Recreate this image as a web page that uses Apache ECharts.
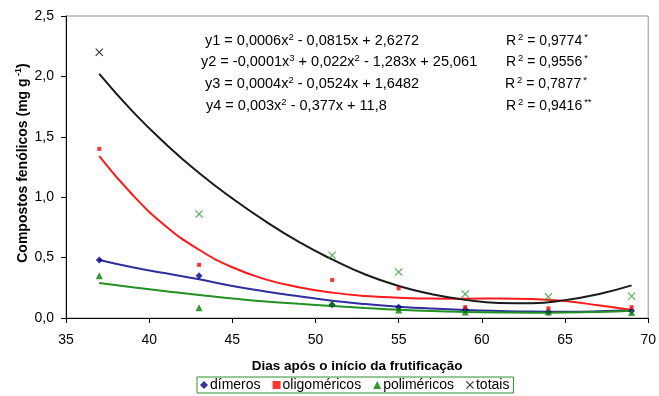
<!DOCTYPE html>
<html>
<head>
<meta charset="utf-8">
<script src="https://cdn.jsdelivr.net/npm/echarts@6/dist/echarts.min.js"></script>
<style>
html,body{margin:0;padding:0;background:#fff;}
#c{width:659px;height:396px;}
</style>
</head>
<body>
<div id="c"></div>
<script>
// Observed data (days after fruiting onset)
const pointDays = [37, 43, 51, 55, 59, 64, 69];
const dimeros = [0.48, 0.35, 0.11, 0.09, 0.07, 0.05, 0.06];
const oligomericos = [1.40, 0.44, 0.315, 0.245, 0.09, 0.08, 0.09];
const polimericos = [0.35, 0.085, 0.12, 0.066, 0.05, 0.05, 0.045];
const totais = [2.20, 0.86, 0.52, 0.38, 0.198, 0.176, 0.18];

// Trend curves
const curveDays = [37, 39, 41, 43, 45, 47, 49, 51, 53, 55, 57, 59, 61, 63, 65, 67, 69];
const fitDimeros = [0.48, 0.42, 0.37, 0.32, 0.265, 0.22, 0.18, 0.143, 0.115, 0.094, 0.078, 0.066, 0.058, 0.053, 0.052, 0.056, 0.066];
const fitOligo = [1.34, 1.02, 0.76, 0.565, 0.42, 0.32, 0.255, 0.21, 0.182, 0.168, 0.161, 0.16, 0.162, 0.158, 0.14, 0.105, 0.066];
const fitPoli = [0.29, 0.255, 0.222, 0.19, 0.162, 0.137, 0.117, 0.1, 0.083, 0.068, 0.057, 0.05, 0.046, 0.044, 0.045, 0.05, 0.06];
const fitTotais = [2.02, 1.71, 1.44, 1.20, 0.99, 0.80, 0.63, 0.485, 0.36, 0.265, 0.197, 0.15, 0.125, 0.123, 0.148, 0.197, 0.27];

const seriesNames = ['dímeros', 'oligoméricos', 'poliméricos', 'totais'];
const equations = [
  ['y1 = 0,0006x', '2', ' - 0,0815x + 2,6272', '', ''],
  ['y2 = -0,0001x', '3', ' + 0,022x', '2', ' - 1,283x + 25,061'],
  ['y3 = 0,0004x', '2', ' - 0,0524x + 1,6482', '', ''],
  ['y4 = 0,003x', '2', ' - 0,377x + 11,8', '', '']
];
const r2Values = ['0,9774', '0,9556', '0,7877', '0,9416'];
const r2Sig = ['*', '*', '*', '**'];
const xTitle = 'Dias após o início da frutificação';
const yTitle = 'Compostos fenólicos (mg g';

const FONT = '"Liberation Sans", Arial, sans-serif';
const pair = (xs, ys) => xs.map((x, i) => [x, ys[i]]);
const crossPath = 'path://M0,1 L1,0 L5,4 L9,0 L10,1 L6,5 L10,9 L9,10 L5,6 L1,10 L0,9 L4,5 Z';

const richEq = {
  n: { fontSize: 14.5, fontFamily: FONT, color: '#000', lineHeight: 17 },
  s: { fontSize: 9.5, fontFamily: FONT, color: '#000', lineHeight: 9, verticalAlign: 'top' }
};
const richR = {
  n: { fontSize: 14, fontFamily: FONT, color: '#000', lineHeight: 17 },
  s: { fontSize: 9.5, fontFamily: FONT, color: '#000', lineHeight: 9, verticalAlign: 'top', padding: [0, 0, 0, 2] }
};
const eqX = [205, 201, 205, 206];
const eqY = [41, 62, 84, 106];
const r2X = [506, 506, 505, 506];
const graphics = [];
equations.forEach((e, i) => {
  let t = '{n|' + e[0] + '}{s|' + e[1] + '}{n|' + e[2] + '}';
  if (e[3]) t += '{s|' + e[3] + '}{n|' + e[4] + '}';
  graphics.push({ type: 'text', x: eqX[i], y: eqY[i], silent: true,
    style: { text: t, rich: richEq, align: 'left', verticalAlign: 'middle' } });
  graphics.push({ type: 'text', x: r2X[i], y: eqY[i], silent: true,
    style: { text: '{n|R}{s|2}{n| = ' + r2Values[i] + '}{s|' + r2Sig[i] + '}', rich: richR, align: 'left', verticalAlign: 'middle' } });
});
graphics.push({ type: 'text', x: 23, y: 163, rotation: Math.PI / 2, silent: true,
  style: { text: '{b|' + yTitle + '}{bs| -1}{b|)}',
    rich: { b: { fontSize: 14, fontWeight: 'bold', fontFamily: FONT, color: '#000', lineHeight: 17 },
            bs: { fontSize: 9, fontWeight: 'bold', fontFamily: FONT, color: '#000', lineHeight: 9, verticalAlign: 'top' } },
    align: 'center', verticalAlign: 'middle' } });

const chart = echarts.init(document.getElementById('c'), null, { renderer: 'canvas' });
const totaisData = pair(pointDays, totais).map((p, i) => ({ value: p, itemStyle: { color: i === 0 ? '#000' : '#2f9a2f' } }));

chart.setOption({
  animation: false,
  backgroundColor: '#fff',
  textStyle: { fontFamily: FONT },
  grid: { left: 66, right: 8, top: 16, bottom: 78, show: true, borderColor: '#909090', borderWidth: 1 },
  xAxis: {
    type: 'value', min: 35, max: 70, interval: 5,
    axisLine: { lineStyle: { color: '#000', width: 1 } },
    axisTick: { inside: false, length: 5, lineStyle: { color: '#000' } },
    splitLine: { show: false },
    axisLabel: { color: '#000', fontSize: 14, margin: 15, fontFamily: FONT },
    name: xTitle, nameLocation: 'middle', nameGap: 41,
    nameTextStyle: { color: '#000', fontSize: 13.5, fontWeight: 'bold', fontFamily: FONT }
  },
  yAxis: {
    type: 'value', min: 0, max: 2.5, interval: 0.5,
    axisLine: { show: true, lineStyle: { color: '#000', width: 1 } },
    axisTick: { show: true, inside: false, length: 5, lineStyle: { color: '#000' } },
    splitLine: { show: false },
    axisLabel: { color: '#000', fontSize: 14, margin: 12, fontFamily: FONT, formatter: v => v.toFixed(1).replace('.', ',') }
  },
  legend: {
    data: seriesNames, left: 197, top: 377,
    borderColor: '#2f8f2f', borderWidth: 1, padding: [1, 4, 1, 3],
    itemWidth: 8, itemHeight: 8, itemGap: 12,
    textStyle: { color: '#000', fontSize: 14, fontFamily: FONT, padding: [0, 0, 0, -3] }
  },
  graphic: graphics,
  series: [
    { name: 'fit-d', type: 'line', smooth: true, showSymbol: false, silent: true, data: pair(curveDays, fitDimeros), lineStyle: { color: '#2e2e9c', width: 2 }, z: 2 },
    { name: 'fit-o', type: 'line', smooth: true, showSymbol: false, silent: true, data: pair(curveDays, fitOligo), lineStyle: { color: '#ff1a1a', width: 2 }, z: 2 },
    { name: 'fit-p', type: 'line', smooth: true, showSymbol: false, silent: true, data: pair(curveDays, fitPoli), lineStyle: { color: '#219121', width: 2 }, z: 2 },
    { name: 'fit-t', type: 'line', smooth: true, showSymbol: false, silent: true, data: pair(curveDays, fitTotais), lineStyle: { color: '#1a1a1a', width: 2 }, z: 2 },
    { name: 'dímeros', type: 'scatter', symbol: 'diamond', symbolSize: 7, data: pair(pointDays, dimeros), itemStyle: { color: '#00007f' }, z: 5 },
    { name: 'oligoméricos', type: 'scatter', symbol: 'rect', symbolSize: 4, data: pair(pointDays, oligomericos), itemStyle: { color: '#ff0000' }, z: 5 },
    { name: 'poliméricos', type: 'scatter', symbol: 'triangle', symbolSize: 7, data: pair(pointDays, polimericos), itemStyle: { color: '#007f00' }, z: 5 },
    { name: 'totais', type: 'scatter', symbol: crossPath, symbolSize: 8, data: totaisData, itemStyle: { color: '#000' }, z: 5 }
  ]
});
</script>
</body>
</html>
